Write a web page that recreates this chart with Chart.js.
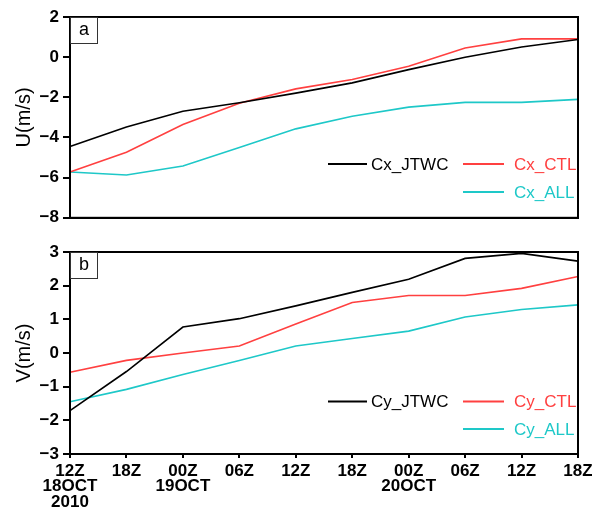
<!DOCTYPE html>
<html>
<head>
<meta charset="utf-8">
<script src="https://cdn.jsdelivr.net/npm/chart.js@4/dist/chart.umd.min.js"></script>
<style>
  html, body { margin: 0; padding: 0; background: #fff; }
  #wrap { position: relative; width: 592px; height: 511px; overflow: hidden; }
  .panel { position: absolute; left: 0; width: 610px; }
  #p1 { top: 0; height: 232px; }
  #p2 { top: 232px; height: 279px; }
</style>
</head>
<body>
<div id="wrap">
  <div class="panel" id="p1"><canvas id="c1"></canvas></div>
  <div class="panel" id="p2"><canvas id="c2"></canvas></div>
</div>
<script>
// ---- data ----
const timeLabels = [['12Z','18OCT','2010'], '18Z', ['00Z','19OCT'], '06Z', '12Z', '18Z', ['00Z','20OCT'], '06Z', '12Z', '18Z'];

const cxJTWC = [-4.45, -3.48, -2.69, -2.27, -1.79, -1.28, -0.62, 0.0, 0.51, 0.88];
const cxCTL  = [-5.72, -4.73, -3.35, -2.30, -1.58, -1.11, -0.45, 0.46, 0.91, 0.91];
const cxALL  = [-5.72, -5.87, -5.42, -4.50, -3.57, -2.94, -2.49, -2.25, -2.25, -2.10];

const cyJTWC = [-1.71, -0.55, 0.77, 1.02, 1.40, 1.80, 2.19, 2.81, 2.96, 2.73];
const cyCTL  = [-0.57, -0.22, 0.00, 0.21, 0.86, 1.50, 1.71, 1.71, 1.92, 2.27];
const cyALL  = [-1.45, -1.08, -0.64, -0.22, 0.21, 0.43, 0.65, 1.07, 1.29, 1.43];

const uTicks = [-8, -6, -4, -2, 0, 2];
const vTicks = [-3, -2, -1, 0, 1, 2, 3];

const seriesColors = { jtwc: '#000000', ctl: '#ff4040', all: '#1ec8c8' };

// ---- helpers ----
const FONT = "'Liberation Sans', Arial, sans-serif";
function fmt(v) { return v < 0 ? '\u2212' + (-v) : String(v); }

const framePlugin = {
  id: 'frameAndLegend',
  afterDraw(chart, args, opts) {
    const ctx = chart.ctx;
    const a = chart.chartArea;
    ctx.save();
    // frame
    ctx.strokeStyle = '#000';
    ctx.lineWidth = 2;
    ctx.strokeRect(a.left, a.top, a.right - a.left, a.bottom - a.top);
    // panel label box
    ctx.lineWidth = 1;
    ctx.strokeStyle = '#333';
    ctx.fillStyle = '#fff';
    ctx.fillRect(a.left + 1, a.top + 1, 26, 25);
    ctx.strokeRect(a.left + 0.5, a.top + 0.5, 27, 26);
    ctx.fillStyle = '#000';
    ctx.font = '18px ' + FONT;
    ctx.textAlign = 'center';
    ctx.textBaseline = 'middle';
    ctx.fillText(opts.panel, a.left + 14, a.top + 13);
    // legend
    ctx.font = '17px ' + FONT;
    ctx.textAlign = 'left';
    ctx.lineWidth = 1.8;
    const ds = chart.data.datasets;
    opts.items.forEach((it, i) => {
      const d = ds[i];
      ctx.strokeStyle = d.borderColor;
      ctx.beginPath();
      ctx.moveTo(it.x0, a.top + it.y);
      ctx.lineTo(it.x1, a.top + it.y);
      ctx.stroke();
      ctx.fillStyle = d.borderColor;
      ctx.fillText(d.label, it.tx, a.top + it.y + 1);
    });
    ctx.restore();
  }
};

function makeChart(id, sets, yMin, yMax, title, panel, showX, padTop, xHeight, legendY1, legendY2, tickVals) {
  return new Chart(document.getElementById(id), {
    type: 'line',
    data: {
      labels: timeLabels,
      datasets: sets.map(s => ({
        label: s.label, data: s.data, borderColor: s.color, backgroundColor: s.color,
        borderWidth: 1.6, pointRadius: 0, tension: 0, fill: false
      }))
    },
    options: {
      responsive: true,
      maintainAspectRatio: false,
      animation: false,
      events: [],
      layout: { padding: { top: padTop, right: 32, left: 0, bottom: 0 } },
      plugins: {
        legend: { display: false },
        tooltip: { enabled: false },
        frameAndLegend: {
          panel: panel,
          items: [
            { x0: 328, x1: 367, tx: 371, y: legendY1 },
            { x0: 463, x1: 504, tx: 514, y: legendY1 },
            { x0: 463, x1: 504, tx: 514, y: legendY2 }
          ]
        }
      },
      scales: {
        x: {
          type: 'category',
          offset: false,
          afterFit(scale) { scale.height = xHeight; },
          grid: { display: showX, drawOnChartArea: false, drawTicks: true, tickLength: 4, color: '#000', lineWidth: 2 },
          border: { display: true, color: '#000', width: 2 },
          ticks: {
            display: showX, autoSkip: false, maxRotation: 0, minRotation: 0, padding: 5,
            color: '#000', font: { family: FONT, size: 17, weight: 'bold', lineHeight: 0.92 }
          }
        },
        y: {
          min: yMin, max: yMax,
          afterFit(scale) { scale.width = 70; },
          afterBuildTicks(scale) { scale.ticks = tickVals.map(v => ({ value: v })); },
          grid: { display: true, drawOnChartArea: false, drawTicks: true, tickLength: 7, color: '#000', lineWidth: 2 },
          border: { display: true, color: '#000', width: 2 },
          ticks: {
            padding: 4, color: '#000',
            font: { family: FONT, size: 17, weight: 'bold' },
            callback: v => fmt(v)
          },
          title: {
            display: true, text: title, color: '#000',
            font: { family: FONT, size: 20 }, padding: { top: 12, bottom: 0 }
          }
        }
      }
    },
    plugins: [framePlugin]
  });
}

makeChart('c1', [
  { label: 'Cx_JTWC', data: cxJTWC, color: seriesColors.jtwc },
  { label: 'Cx_CTL',  data: cxCTL,  color: seriesColors.ctl },
  { label: 'Cx_ALL',  data: cxALL,  color: seriesColors.all }
], -8, 2, 'U(m/s)', 'a', false, 17, 14, 147, 175, uTicks);

makeChart('c2', [
  { label: 'Cy_JTWC', data: cyJTWC, color: seriesColors.jtwc },
  { label: 'Cy_CTL',  data: cyCTL,  color: seriesColors.ctl },
  { label: 'Cy_ALL',  data: cyALL,  color: seriesColors.all }
], -3, 3, 'V(m/s)', 'b', true, 20, 57, 149.5, 177, vTicks);
</script>
</body>
</html>
